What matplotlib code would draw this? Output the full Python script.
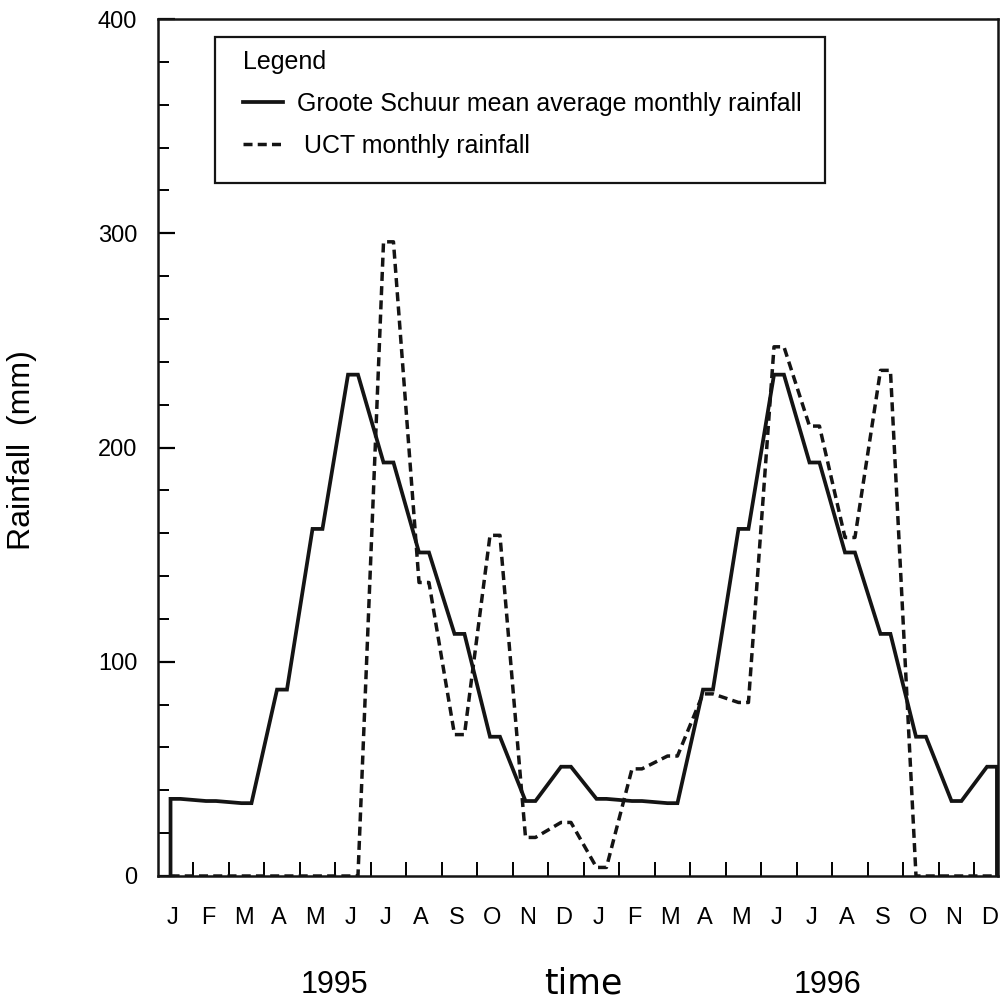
import numpy as np
import matplotlib
matplotlib.use('Agg')
import matplotlib.pyplot as plt
from matplotlib.ticker import MultipleLocator
from matplotlib.patches import Rectangle

plt.rcParams['font.family'] = ['Liberation Sans', 'DejaVu Sans']

months = ['J', 'F', 'M', 'A', 'M', 'J', 'J', 'A', 'S', 'O', 'N', 'D'] * 2
years = ['1995', '1996']

# Groote Schuur long-term mean (same pattern both years)
gs_mean = [36, 35, 34, 87, 162, 234, 193, 151, 113, 65, 35, 51,
           36, 35, 34, 87, 162, 234, 193, 151, 113, 65, 35, 51]
# UCT measured monthly rainfall
uct = [0, 0, 0, 0, 0, 0, 296, 137, 66, 159, 18, 25,
       4, 50, 56, 85, 81, 247, 210, 158, 236, 0, 0, 0]

half = 0.14  # each month drawn as a short flat run


def steps(vals, close=False):
    xs, ys = [], []
    for i, v in enumerate(vals):
        xs += [i - half, i + half]
        ys += [v, v]
    if close:
        xs = [xs[0]] + xs + [xs[-1]]
        ys = [0] + ys + [0]
    return xs, ys


fig = plt.figure(figsize=(10.01, 10.0), dpi=100)
ax = fig.add_axes([158 / 1001, 124 / 1000, 840 / 1001, 857 / 1000])

x1, y1 = steps(gs_mean, close=True)
x2, y2 = steps(uct)
ax.plot(x1, y1, color='#141414', lw=2.7, solid_joinstyle='miter',
        label='Groote Schuur mean average monthly rainfall')
ax.plot(x2, y2, color='#141414', lw=2.5, dashes=(2.6, 1.5),
        label=' UCT monthly rainfall')

ax.set_xlim(-0.493, 23.17)
ax.set_ylim(0, 400)

ax.yaxis.set_major_locator(MultipleLocator(100))
ax.yaxis.set_minor_locator(MultipleLocator(20))
ax.tick_params(axis='y', which='major', direction='in', length=12, width=1.6,
               labelsize=17, pad=15)
ax.tick_params(axis='y', which='minor', direction='in', length=8, width=1.4)

ax.set_xticks(np.arange(len(months)) - 0.08)
ax.set_xticklabels(months)
ax.set_xticks(np.arange(len(months) - 1) + 0.5, minor=True)
ax.tick_params(axis='x', which='major', length=0, labelsize=17, pad=22)
ax.tick_params(axis='x', which='minor', direction='in', length=10, width=1.4)

for s in ax.spines.values():
    s.set_linewidth(1.8)
    s.set_color('#141414')

fig.text(22 / 1001, 1 - 450 / 1000, 'Rainfall  (mm)', fontsize=23, rotation=90,
         ha='center', va='center')

fig.text(334 / 1001, 1 - 985 / 1000, years[0], fontsize=22, ha='center', va='center')
fig.text(828 / 1001, 1 - 985 / 1000, years[1], fontsize=22, ha='center', va='center')
fig.text(583 / 1001, 1 - 983 / 1000, 'time', fontsize=25, ha='center', va='center',
         family='DejaVu Sans')

# legend frame drawn separately so the padding matches
fig.patches.append(Rectangle((215 / 1001, 1 - 183 / 1000), 610 / 1001, 146 / 1000,
                             transform=fig.transFigure, fill=False,
                             edgecolor='#141414', linewidth=1.6, zorder=5))
leg = ax.legend(loc='upper left', bbox_to_anchor=(243 / 1001, 1 - 50 / 1000),
                bbox_transform=fig.transFigure, title='Legend',
                fontsize=18, title_fontsize=18, frameon=False,
                handlelength=1.6, handletextpad=0.55, borderpad=0, labelspacing=0.72,
                borderaxespad=0)
leg._legend_box.align = 'left'

fig.savefig('out.png', dpi=100)
